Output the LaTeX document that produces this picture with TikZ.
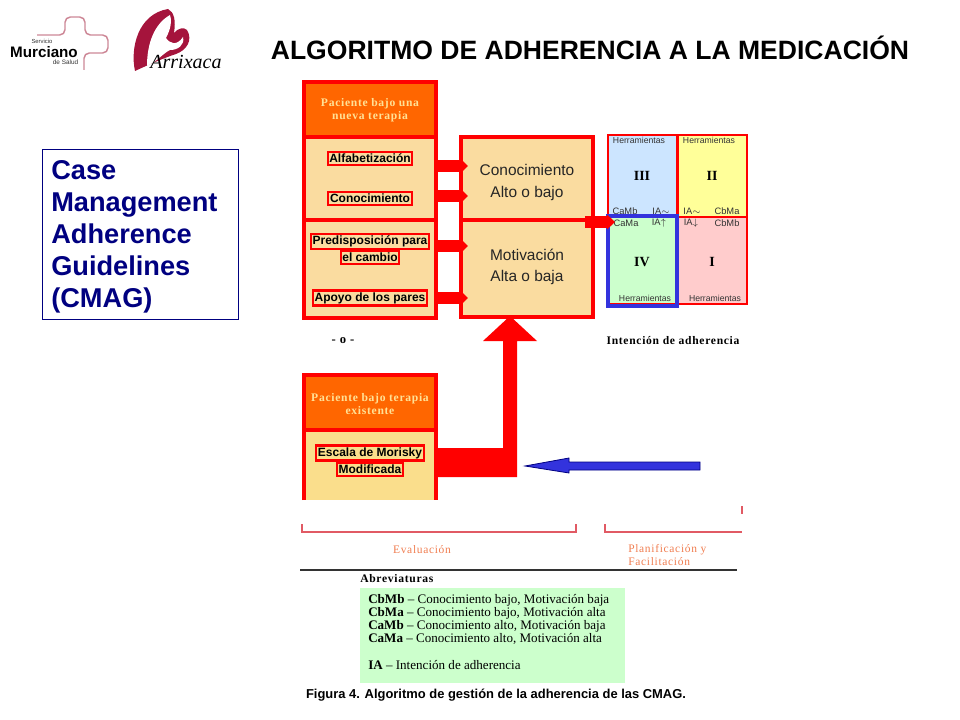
\documentclass[tikz,border=0pt]{standalone}
\usepackage{fontspec}
\setmainfont{Liberation Sans}
\newfontfamily\capfont[LetterSpace=6]{Liberation Serif}
\newfontfamily\txtfont{Liberation Serif}
\usetikzlibrary{arrows.meta}
\definecolor{alarmred}{RGB}{255,0,0}
\definecolor{headorange}{RGB}{255,102,0}
\definecolor{paleorange}{RGB}{250,220,160}
\definecolor{paleyellow}{RGB}{250,222,140}
\definecolor{capcream}{RGB}{255,225,150}
\definecolor{deepnavy}{RGB}{0,0,128}
\definecolor{hiblue}{RGB}{51,51,221}
\definecolor{crimson}{RGB}{165,20,60}
\definecolor{crosspink}{RGB}{205,135,150}
\definecolor{bracketred}{RGB}{225,90,100}
\definecolor{labelorange}{RGB}{240,125,80}
\definecolor{cellblue}{RGB}{204,229,255}
\definecolor{cellyellow}{RGB}{255,255,153}
\definecolor{cellgreen}{RGB}{204,255,204}
\definecolor{cellpink}{RGB}{255,204,204}
\tikzset{
  panel/.style={draw=alarmred,line width=3pt,anchor=north west,inner sep=0pt,outer sep=0pt},
  cell/.style={draw=alarmred,line width=1.6pt,anchor=north west,inner sep=0pt,outer sep=0pt},
  headtxt/.style={font=\capfont\bfseries\fontsize{8.7}{9.7}\selectfont,text=capcream,align=center},
  factor/.style={draw=alarmred,line width=1.6pt,font=\bfseries\fontsize{9}{10}\selectfont,
    inner xsep=1.2pt,inner ysep=1.4pt,fill=paleorange},
  blocktxt/.style={font=\fontsize{11.6}{15.8}\selectfont,align=center,text=black!85},
  toolstxt/.style={font=\fontsize{6.5}{7}\selectfont,text=black!80,inner sep=0pt},
  tagtxt/.style={font=\fontsize{7}{8}\selectfont,text=black!80,inner sep=0pt},
  romantxt/.style={font=\txtfont\bfseries\fontsize{10.5}{12}\selectfont,inner sep=0pt},
  blockarrow/.style={alarmred,line width=9.5pt,-{Triangle[length=6.5pt,width=12pt]}},
  bracket/.style={bracketred,line width=0.9pt},
  steptxt/.style={font=\capfont\fontsize{8.6}{9.75}\selectfont,text=labelorange,align=left,inner sep=0pt},
  abbrev/.style={font=\txtfont\fontsize{9.8}{10}\selectfont,anchor=west,inner sep=0pt}
}
\begin{document}
\begin{tikzpicture}[x=0.75pt,y=-0.75pt]
  \useasboundingbox (0,0) rectangle (960,720);
  % logo left
  \draw[crosspink,line width=1.1pt,rounded corners=4pt]
    (37,35)--(65,35)--(65,17)--(85,17)--(85,35)--(108,35)--(108,53)--(84,53)--(84,70);
  \node[inner sep=0pt,font=\bfseries\fontsize{11.4}{12}\selectfont] (murciano) at (44,52){Murciano};
  \node[inner sep=0pt,font=\fontsize{4.4}{5}\selectfont,text=black!80] (servicio) at (42,41){Servicio};
  \node[inner sep=0pt,font=\fontsize{4.8}{5}\selectfont,text=black!80] (salud) at (65.5,62.5){de Salud};
  % logo right
  \fill[crimson] (135,71)..controls (130,48) and (138,14)..(168,9)
    ..controls (174,12) and (176,20)..(174,33)
    ..controls (178,28) and (184,27)..(187,30)
    ..controls (193,40) and (187,50)..(176,54)
    ..controls (164,58) and (150,64)..(135,71)--cycle;
  \fill[white] (147,66)..controls (147,44) and (154,24)..(170,15)
    ..controls (173,24) and (168,34)..(166,38)
    ..controls (170,44) and (177,46)..(183,37)
    ..controls (185,45) and (178,50)..(170,50)
    ..controls (162,54) and (158,61)..(147,66)--cycle;
  \node[inner sep=0pt,font=\txtfont\itshape\fontsize{15}{16}\selectfont] (arrixaca) at (186,62){Arrixaca};
  % title
  \node[font=\bfseries\fontsize{19.9}{22}\selectfont] (title) at (590,47.5){ALGORITMO DE ADHERENCIA A LA MEDICACIÓN};
  % side box
  \node[draw=deepnavy,line width=0.7pt,anchor=north west,minimum width=147pt,minimum height=127.5pt,
    inner sep=0pt] (cmagbox) at (42,149){};
  \node[anchor=north west,inner sep=0pt,text=deepnavy,align=left,text width=140pt,
    font=\bfseries\fontsize{20.4}{24}\selectfont] (cmag) at (51,160){Case\\Management\\Adherence\\Guidelines\\(CMAG)};
  % new therapy panel
  \node[panel,fill=headorange,minimum width=99pt,minimum height=41.25pt] (newhead) at (304,82){};
  \node[panel,fill=paleorange,minimum width=99pt,minimum height=62.25pt] (knowside) at (304,137){};
  \node[panel,fill=paleorange,minimum width=99pt,minimum height=73.5pt] (motivside) at (304,220){};
  \node[headtxt] (newtxt) at (370,110.5){Paciente bajo una\\nueva terapia};
  \node[factor] (alfa) at (370,158.5){Alfabetización};
  \node[factor] (cono) at (370,198.5){Conocimiento};
  \node[factor] (predis) at (370,241.5){Predisposición para};
  \node[factor] (cambio) at (370,257.5){el cambio};
  \node[factor] (apoyo) at (370,298){Apoyo de los pares};
  % centre panel
  \node[panel,fill=paleorange,minimum width=99pt,minimum height=62.25pt] (knowbox) at (461,137){};
  \node[panel,fill=paleorange,minimum width=99pt,minimum height=72.75pt] (motivbox) at (461,220){};
  \node[blocktxt] (knowtxt) at (527,182.5){Conocimiento\\Alto o bajo};
  \node[blocktxt] (motivtxt) at (527,266.5){Motivación\\Alta o baja};
  % arrows into centre
  \coordinate (arrowtip) at (468,0);
  \coordinate (rowa) at (0,166);
  \coordinate (rowb) at (0,196);
  \coordinate (rowc) at (0,246);
  \coordinate (rowd) at (0,298);
  \foreach \row in {rowa,rowb,rowc,rowd}
    \draw[blockarrow] (\row -| knowside.east) -- (\row -| arrowtip);
  % grid
  \node[cell,fill=cellblue,minimum width=52.1pt,minimum height=61.5pt] (cellthree) at (608,135){};
  \node[cell,fill=cellyellow,minimum width=52.2pt,minimum height=61.5pt] (celltwo) at (677.5,135){};
  \node[cell,fill=cellgreen,minimum width=52.1pt,minimum height=65.25pt] (cellfour) at (608,217){};
  \node[cell,fill=cellpink,minimum width=52.2pt,minimum height=65.25pt] (cellone) at (677.5,217){};
  \node[toolstxt] (toolsa) at (639,140){Herramientas};
  \node[toolstxt] (toolsb) at (709,140){Herramientas};
  \node[toolstxt] (toolsc) at (645,298.5){Herramientas};
  \node[toolstxt] (toolsd) at (715,298.5){Herramientas};
  \node[romantxt] (three) at (642,176){III};
  \node[romantxt] (two) at (712,176){II};
  \node[romantxt] (four) at (642,262){IV};
  \node[romantxt] (one) at (712,262){I};
  \node[tagtxt] (camb) at (625,211){CaMb};
  \node[tagtxt] (iaeq) at (661,211){IA$\sim$};
  \node[tagtxt] (iasim) at (692,211){IA$\sim$};
  \node[tagtxt] (cbma) at (727,211){CbMa};
  \node[tagtxt] (cama) at (626,223){CaMa};
  \node[tagtxt] (iaup) at (659,223){IA$\uparrow$};
  \node[tagtxt] (iadown) at (691,223){IA$\downarrow$};
  \node[tagtxt] (cbmb) at (727,223){CbMb};
  \node[draw=hiblue,line width=3pt,anchor=north west,inner sep=0pt,outer sep=0pt,minimum width=51.75pt,minimum height=67.5pt] (focus) at (608,216){};
  \coordinate (gridin) at (615,222);
  \coordinate (gridout) at (585,222);
  \draw[alarmred,line width=8.5pt,-{Triangle[length=6pt,width=11pt]}] (gridout) -- (gridin);
  \node[font=\capfont\bfseries\fontsize{8.7}{9}\selectfont,inner sep=0pt] (intent) at (673,340.5){Intención de adherencia};
  \node[font=\capfont\bfseries\fontsize{9.5}{10}\selectfont,inner sep=0pt] (ortxt) at (343,341){- o -};
  % existing therapy panel
  \fill[paleyellow] (304,430) rectangle (436,500);
  \draw[alarmred,line width=3pt] (304,500)--(304,375)--(436,375)--(436,500);
  \node[panel,fill=headorange,minimum width=99pt,minimum height=41.25pt] (oldhead) at (304,375){};
  \node[headtxt] (oldtxt) at (370,404){Paciente bajo terapia\\existente};
  \node[factor,fill=paleyellow] (escala) at (370,453){Escala de Morisky};
  \node[factor,fill=paleyellow] (modif) at (370,469.5){Modificada};
  % big arrow
  \coordinate (bigtip) at (510,316);
  \fill[alarmred] (438,448)--(503,448)--(503,341)--(483,341)--(bigtip)--(537,341)--(517,341)--(517,477)--(438,477)--cycle;
  % blue arrow
  \coordinate (bluestart) at (700,462);
  \coordinate (bluetip) at (525,466);
  \draw[deepnavy,line width=0.6pt,fill=hiblue] (bluestart) -- (569,462) -- (569,458) -- (bluetip) -- (569,473) -- (569,470) -- (700,470) -- cycle;
  % bottom part
  \draw[bracket] (302,524)--(302,532)--(576,532)--(576,524);
  \draw[bracket] (605,524)--(605,532)--(742,532);
  \draw[bracket] (742,506)--(742,514);
  \node[steptxt] (eval) at (422,550){Evaluación};
  \node[steptxt,anchor=north west] (plan) at (628,544.5){Planificación y\\Facilitación};
  \draw[black!80,line width=1pt] (300,570)--(737,570);
  \node[font=\capfont\bfseries\fontsize{8.7}{9}\selectfont,anchor=west,inner sep=0pt] (abrev) at (360,578.5){Abreviaturas};
  \node[fill=cellgreen,anchor=north west,inner sep=0pt,outer sep=0pt,minimum width=198.75pt,minimum height=71.25pt] (abbox) at (360,588){};
  \node[abbrev] (cbmbline) at (368,600){\textbf{CbMb} – Conocimiento bajo, Motivación baja};
  \node[abbrev] (cbmaline) at (368,613){\textbf{CbMa} – Conocimiento bajo, Motivación alta};
  \node[abbrev] (cambline) at (368,626){\textbf{CaMb} – Conocimiento alto, Motivación baja};
  \node[abbrev] (camaline) at (368,639){\textbf{CaMa} – Conocimiento alto, Motivación alta};
  \node[abbrev] (ialine) at (368,665.5){\textbf{IA} – Intención de adherencia};
  \node[font=\bfseries\fontsize{9.7}{11}\selectfont,inner sep=0pt] (caption) at (496,695){Figura 4. Algoritmo de gestión de la adherencia de las CMAG.};
\end{tikzpicture}
\end{document}
